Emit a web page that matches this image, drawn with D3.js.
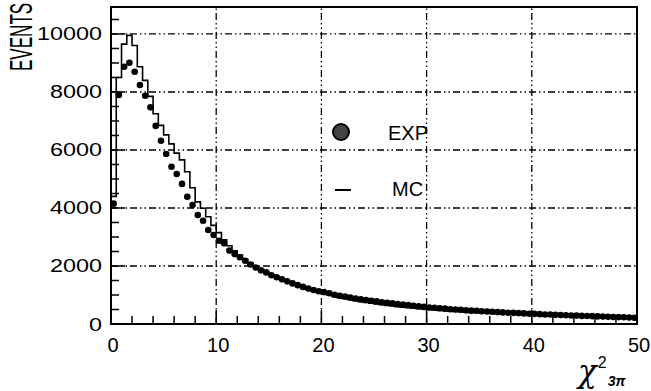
<html>
<head>
    <meta charset="utf-8">
    <script src="https://d3js.org/d3.v7.min.js"></script>
    <title>chi2 3pi</title>
    <style>
        body { margin: 0; background: white; }
        text { font-family: "Liberation Sans", Arial, sans-serif; }
    </style>
</head>
<body>
<svg id="chart" width="651" height="391"></svg>
<script>
    // bin width 0.5, 100 bins from 0 to 50
    const binWidth = 0.5;
    const expCounts = [
        4150, 7900, 8870, 9010, 8700, 8240, 7870, 7470, 6830, 6320,
        5860, 5420, 5170, 4830, 4390, 4100, 3760, 3560, 3240, 3070,
        2870, 2780, 2530, 2410, 2300, 2180, 2050, 1950, 1850, 1780,
        1680, 1610, 1540, 1470, 1400, 1340, 1280, 1220, 1170, 1130,
        1100, 1060, 1010, 970, 950, 910, 880, 850, 830, 800,
        780, 750, 735, 710, 690, 670, 655, 630, 610, 590,
        570, 560, 545, 530, 510, 500, 490, 470, 460, 455,
        440, 430, 420, 410, 400, 390, 385, 375, 365, 355,
        350, 340, 330, 325, 315, 310, 300, 295, 290, 280,
        275, 270, 262, 255, 250, 243, 238, 232, 225, 218
    ];
    const mcCounts = [
        4400, 8500, 9650, 9950, 9600, 8870, 8400, 7850, 7250, 6850,
        6520, 6210, 5890, 5660, 5250, 4700, 4210, 3990, 3700, 3400,
        3150, 2900, 2700, 2520, 2380, 2240, 2110, 2000, 1890, 1800,
        1700, 1620, 1540, 1460, 1390, 1320, 1260, 1200, 1150, 1090,
        1040, 1000, 950, 910, 870, 840, 800, 770, 745, 715,
        690, 665, 640, 620, 600, 580, 560, 545, 530, 515,
        500, 485, 470, 458, 445, 432, 420, 410, 400, 390,
        380, 370, 362, 353, 345, 337, 330, 322, 315, 308,
        300, 294, 288, 282, 276, 270, 265, 260, 255, 250,
        245, 240, 235, 230, 225, 220, 216, 212, 208, 200
    ];
    const xTicks = [0, 10, 20, 30, 40, 50];
    const yTicks = [0, 2000, 4000, 6000, 8000, 10000];
    const legendLabels = ["EXP", "MC"];

    const svg = d3.select("#chart");
    const plot = { left: 111, right: 637, top: 7, bottom: 324 };

    const x = d3.scaleLinear().domain([0, 50]).range([plot.left, plot.right]);
    const y = d3.scaleLinear().domain([0, 10930]).range([plot.bottom, plot.top]);

    svg.append("rect").attr("width", 651).attr("height", 391).attr("fill", "white");

    // grid lines (dash-dot-dot)
    const dash = "7,3,1.5,3,1.5,3";
    svg.selectAll("line.vgrid")
        .data(xTicks.filter(d => d > 0 && d < 50))
        .join("line")
        .attr("class", "vgrid")
        .attr("x1", d => x(d)).attr("x2", d => x(d))
        .attr("y1", plot.bottom).attr("y2", plot.top)
        .attr("stroke", "black").attr("stroke-width", 1.3)
        .attr("stroke-dasharray", dash);
    svg.selectAll("line.hgrid")
        .data(yTicks.filter(d => d > 0))
        .join("line")
        .attr("class", "hgrid")
        .attr("x1", plot.left).attr("x2", plot.right)
        .attr("y1", d => y(d)).attr("y2", d => y(d))
        .attr("stroke", "black").attr("stroke-width", 1.3)
        .attr("stroke-dasharray", dash);

    // minor ticks
    svg.selectAll("line.xtick")
        .data(d3.range(0, 50.01, 2))
        .join("line")
        .attr("class", "xtick")
        .attr("x1", d => x(d)).attr("x2", d => x(d))
        .attr("y1", plot.bottom).attr("y2", d => plot.bottom - (d % 10 === 0 ? 14 : 8))
        .attr("stroke", "black").attr("stroke-width", 1.5);
    svg.selectAll("line.ytick")
        .data(d3.range(0, 10930, 500))
        .join("line")
        .attr("class", "ytick")
        .attr("y1", d => y(d)).attr("y2", d => y(d))
        .attr("x1", plot.left).attr("x2", d => plot.left + (d % 2000 === 0 ? 14 : 8))
        .attr("stroke", "black").attr("stroke-width", 1.5);

    // MC histogram (step line)
    const mcPoints = [[0, 0]].concat(mcCounts.map((v, i) => [i * binWidth, v]))
        .concat([[50, mcCounts[mcCounts.length - 1]], [50, 0]]);
    const step = d3.line()
        .x(d => x(d[0])).y(d => y(d[1]))
        .curve(d3.curveStepAfter);
    svg.append("path")
        .datum(mcPoints)
        .attr("d", step)
        .attr("fill", "none")
        .attr("stroke", "black")
        .attr("stroke-width", 1.6);

    // EXP points
    svg.selectAll("circle.exp")
        .data(expCounts)
        .join("circle")
        .attr("class", "exp")
        .attr("cx", (d, i) => x(i * binWidth + binWidth / 2))
        .attr("cy", d => y(d))
        .attr("r", 3.3)
        .attr("fill", "black");

    // frame
    svg.append("rect")
        .attr("x", plot.left).attr("y", plot.top)
        .attr("width", plot.right - plot.left).attr("height", plot.bottom - plot.top)
        .attr("fill", "none").attr("stroke", "black").attr("stroke-width", 2);

    // tick labels
    svg.selectAll("text.xlab")
        .data(xTicks)
        .join("text")
        .attr("class", "xlab")
        .attr("x", d => x(d) + 2)
        .attr("y", 352)
        .attr("text-anchor", "middle")
        .attr("font-size", 20)
        .text(d => d);
    svg.selectAll("text.ylab")
        .data(yTicks)
        .join("text")
        .attr("class", "ylab")
        .attr("transform", d => "translate(102," + (y(d) + 6.5) + ") scale(1.3,1)")
        .attr("text-anchor", "end")
        .attr("font-size", 18)
        .text(d => d);

    // axis titles
    svg.append("text")
        .attr("transform", "translate(32,71) rotate(-90) scale(0.55,1)")
        .attr("font-size", 31)
        .text("EVENTS");
    const xt = svg.append("text").attr("x", 578).attr("y", 382);
    xt.append("tspan").attr("font-family", "DejaVu Serif").attr("font-style", "italic")
        .attr("font-size", 31).text("χ");
    xt.append("tspan").attr("font-size", 16).attr("dy", -14).attr("dx", 1).text("2");
    xt.append("tspan").attr("font-size", 14).attr("font-weight", "bold")
        .attr("font-style", "italic").attr("dy", 18).attr("dx", 1).text("3π");

    // legend
    svg.append("circle")
        .attr("cx", 341).attr("cy", 132).attr("r", 8)
        .attr("fill", "#444").attr("stroke", "black").attr("stroke-width", 2);
    svg.append("line")
        .attr("x1", 335).attr("x2", 351).attr("y1", 190).attr("y2", 190)
        .attr("stroke", "black").attr("stroke-width", 2);
    svg.selectAll("text.leg")
        .data(legendLabels)
        .join("text")
        .attr("class", "leg")
        .attr("x", (d, i) => i === 0 ? 388 : 392)
        .attr("y", (d, i) => i === 0 ? 140 : 196)
        .attr("font-size", 20)
        .text(d => d);
</script>
</body>
</html>
